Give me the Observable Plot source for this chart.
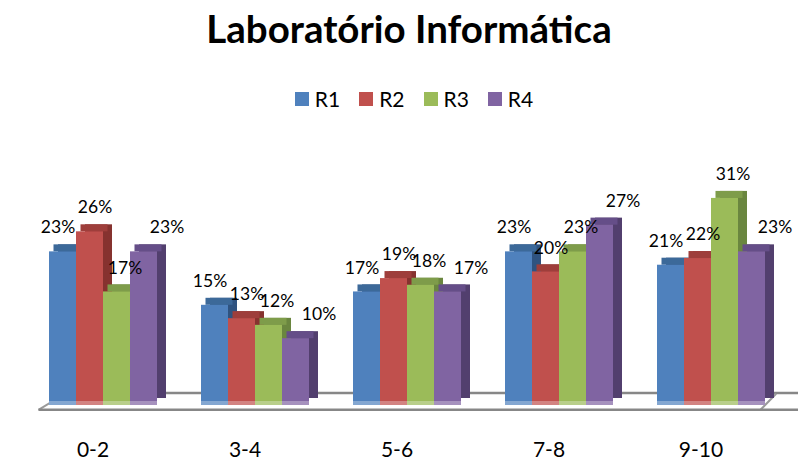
<!DOCTYPE html>
<html><head><meta charset="utf-8">
<script src="https://cdn.jsdelivr.net/npm/d3@7"></script>
<script src="https://cdn.jsdelivr.net/npm/@observablehq/plot@0.6"></script>
<style>
html,body{margin:0;padding:0;background:#fff;}
#wrap{position:relative;width:798px;height:461px;overflow:hidden;font-family:Lato,sans-serif;}
#title{position:absolute;left:20px;top:5px;width:778px;text-align:center;font:bold 38.5px/1.2 Lato,sans-serif;color:#000;}
#legend{position:absolute;left:30px;top:82px;width:768px;}
#chart{position:absolute;left:0;top:130px;}
#legend div{justify-content:center !important;margin:0 !important;font-family:Lato,sans-serif !important;}
#legend span{font-size:21px !important;color:#000 !important;margin-right:19px !important;}
#legend span:last-child{margin-right:0 !important;}
#legend span > svg{margin-right:6px !important;}
</style></head>
<body><div id="wrap"><div id="title">Laboratório Informática</div><div id="legend"></div><div id="chart"></div></div>
<script>
const categories = ["0-2", "3-4", "5-6", "7-8", "9-10"];
const series = ["R1", "R2", "R3", "R4"];
const r1 = [23, 15, 17, 23, 21];
const r2 = [26, 13, 19, 20, 22];
const r3 = [17, 12, 18, 23, 31];
const r4 = [23, 10, 17, 27, 23];
const frontColors = ["#4F81BD", "#C0504D", "#9BBB59", "#8064A2"];
const topColors = ["#3C6999", "#9E3E3B", "#7E9C4A", "#654E88"];
const sideColors = ["#2F5380", "#86322F", "#6A863F", "#523F6E"];
const labelDx = [-5, 5, 8, 23];

const values = [r1, r2, r3, r4];
const data = series.flatMap((s, j) => categories.map((c, i) => ({category: c, series: s, value: values[j][i]})));
const bySeries = series.map(s => data.filter(d => d.series === s));

const depthX = 9, depthY = 7;
const floorStroke = "#878787";
const lineShape = {draw(ctx, l) { ctx.moveTo(0, 0); ctx.lineTo(0, -l); }};
const floorLine = (o) => Plot.vector([0], {facet: "super", anchor: "start", shape: lineShape, strokeLinecap: "butt", ...o});

const marks = [
  floorLine({frameAnchor: "bottom-left", rotate: 90, length: 754, dx: 19, dy: -12.5, stroke: floorStroke, strokeWidth: 2.6}),
  floorLine({frameAnchor: "bottom-left", rotate: 58.7, length: 32.8, dx: -9, dy: 4.3, stroke: "#9a9a9a", strokeWidth: 2}),
  floorLine({frameAnchor: "bottom-right", rotate: 44.3, length: 22.4, dx: -6, dy: 4.3, stroke: "#9a9a9a", strokeWidth: 2}),
  floorLine({frameAnchor: "bottom-left", rotate: 90, length: 768, dx: -9, dy: 4.3, stroke: floorStroke, strokeWidth: 2.6})
];

bySeries.forEach((d, j) => marks.push(
  Plot.barY(d, {fx: "category", x: "series", y: "value", fill: sideColors[j], dx: depthX, dy: -depthY, inset: 0})
));
bySeries.forEach((d, j) => marks.push(
  Plot.barY(d, {fx: "category", x: "series", y1: "value", y2: "value", fill: topColors[j], dx: depthX / 2, insetTop: -depthY, insetBottom: 0, insetLeft: 0, insetRight: 0})
));
bySeries.forEach((d, j) => marks.push(
  Plot.barY(d, {fx: "category", x: "series", y: "value", fill: frontColors[j], inset: 0})
));
marks.push(Plot.barY(data, {fx: "category", x: "series", y1: 0, y2: 0, fill: "white", fillOpacity: 0.3, insetTop: -4, insetBottom: 0, insetLeft: 0, insetRight: 0}));
bySeries.forEach((d, j) => marks.push(
  Plot.text(d, {fx: "category", x: "series", y: "value", text: v => v.value + "%", dx: labelDx[j], dy: -24, fontSize: 17.5, fill: "#000"})
));
marks.push(Plot.axisFx({anchor: "bottom", tickSize: 0, tickPadding: 36.8, fontSize: 21, dx: -10, label: null, fill: "#000"}));

const chart = Plot.plot({
  width: 798,
  height: 331,
  marginLeft: 24,
  marginRight: 10,
  marginTop: 41.2,
  marginBottom: 56,
  style: {fontFamily: "Lato, sans-serif", background: "transparent", color: "#000", overflow: "visible"},
  fx: {domain: categories, paddingInner: 0.273, paddingOuter: 0.1365, label: null},
  x: {domain: series, padding: 0, axis: null},
  y: {domain: [0, 35], axis: null},
  marks
});
document.getElementById("chart").appendChild(chart);

const legend = Plot.legend({
  color: {domain: series, range: frontColors},
  legend: "swatches",
  className: "lg",
  swatchSize: 14
});
document.getElementById("legend").appendChild(legend);
</script>
</body></html>
